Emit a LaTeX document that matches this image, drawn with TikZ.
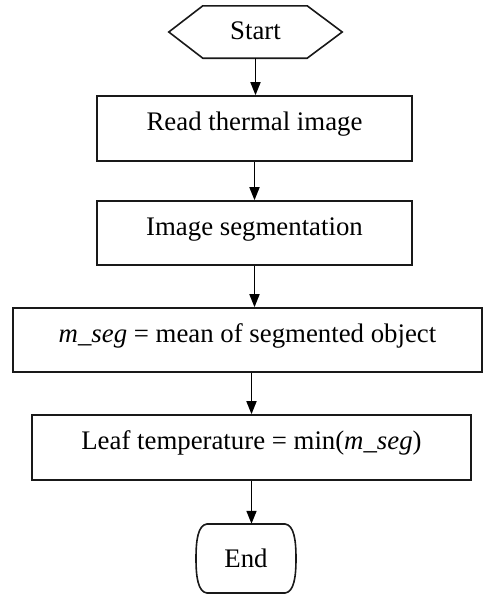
\documentclass[tikz,border=0pt]{standalone}
\usepackage{fontspec}
\setmainfont{Liberation Serif}
\usetikzlibrary{arrows.meta,calc}
\begin{document}
\begin{tikzpicture}[x=1pt,y=-1pt,
  every node/.style={font=\fontsize{26.8}{32}\selectfont},
  proc/.style={draw=black!90,line width=1.6pt,rectangle,inner sep=0pt,text height=18pt,text depth=14pt},
  arr/.style={draw=black,line width=1.7pt,-{Triangle[length=13pt,width=10pt]}},
  outline/.style={draw=black!90,line width=1.6pt}]
\useasboundingbox (0,0) rectangle (483,597);

\node[minimum width=173pt,minimum height=52pt,inner sep=0pt,text height=18pt,text depth=4pt] (start) at (255.5,32) {Start};
\draw[outline] (start.west) -- ($(start.north west)+(34,0)$) -- ($(start.north east)+(-35,0)$) -- (start.east) -- ($(start.south east)+(-35,0)$) -- ($(start.south west)+(34,0)$) -- cycle;

\node[proc,minimum width=315pt,minimum height=65pt] (read) at (254.5,128.5) {Read thermal image};
\node[proc,minimum width=315pt,minimum height=64pt] (seg) at (254.5,233) {Image segmentation};
\node[proc,minimum width=469pt,minimum height=64pt] (mean) at (247.5,340) {\textit{m\_seg} = mean of segmented object};
\node[proc,minimum width=439pt,minimum height=65pt] (leaf) at (251.5,447.5) {Leaf temperature = min(\textit{m\_seg})};

\node[minimum width=100pt,minimum height=69pt,inner sep=0pt,text height=18pt,text depth=0pt] (end) at (246,558.5) {End};
\draw[outline] (207,524) -- (285,524) .. controls (294,525) and (296,540) .. (296,558.5) .. controls (296,577) and (294,592) .. (285,593) -- (207,593) .. controls (198,592) and (196,577) .. (196,558.5) .. controls (196,540) and (198,525) .. (207,524) -- cycle;

\draw[arr] (start.south) -- (start.south |- read.north);
\draw[arr] (read.south) -- (read.south |- seg.north);
\draw[arr] (seg.south) -- (seg.south |- mean.north);
\draw[arr] (leaf.north |- mean.south) -- (leaf.north);
\draw[arr] (leaf.south) -- (leaf.south |- end.north);
\end{tikzpicture}
\end{document}
